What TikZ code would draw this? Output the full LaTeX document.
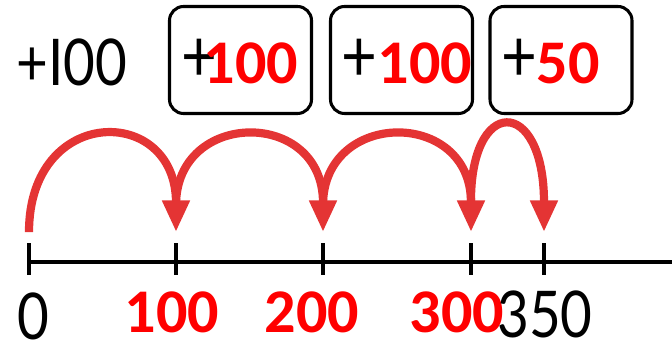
\documentclass[tikz,border=0pt]{standalone}
\usepackage{fontspec}
\usepackage{tikz}
\usetikzlibrary{arrows.meta}
\newfontfamily\plainnum[FakeStretch=0.85]{Lato}
\newfontfamily\boldnum{Carlito}
\definecolor{jumpred}{RGB}{228,52,52}
\definecolor{labred}{RGB}{255,0,0}

\begin{document}
\begin{tikzpicture}[x=0.03cm, y=-0.03cm,
    box/.style={draw, line width=2.6pt, rounded corners=12pt, minimum width=4.26cm, minimum height=3.21cm},
    blk/.style={inner sep=0pt, font=\plainnum\fontsize{55}{66}\selectfont},
    plus/.style={inner sep=0pt, font=\plainnum\fontsize{62}{74}\selectfont},
    redlab/.style={inner sep=0pt, text=labred, font=\boldnum\bfseries\fontsize{53}{64}\selectfont},
    jump/.style={draw=jumpred, line width=7pt, -{Triangle[length=27pt,width=22pt]}}]
                    \useasboundingbox (0,0) rectangle (672,344);
                    \node[blk] (first) at (72,62) {+I00};
                    \node[box] (B1) at (240.5,60) {};
                    \node[box] (B2) at (401.5,60) {};
                    \node[box] (B3) at (561,60) {};
                    \node[plus] (P1) at (199,60) {+}; \node[redlab] (R1) at (251,63) {100};
                    \node[plus] (P2) at (359,60) {+}; \node[redlab] (R2) at (425,63) {100};
                    \node[plus] (P3) at (519,60) {+}; \node[redlab] (R3) at (568,63) {50};
                    \coordinate (p0) at (29,262); \coordinate (p1) at (176,262); \coordinate (p2) at (323,262);
                    \coordinate (p3) at (471,262); \coordinate (p4) at (544,262); \coordinate (end) at (672,262);
                    \draw[line width=2.8pt] (p0) -- (end);
                    \foreach \p in {p0,p1,p2,p3,p4}
                        \draw[line width=2.8pt] ([yshift=16pt]\p) -- ([yshift=-11pt]\p);
                    \draw[jump] ([yshift=25.5pt]p0) .. controls +(0,-128) and +(0,-128) .. ([yshift=25.5pt]p1);
                    \draw[jump] ([yshift=48.5pt]p1) .. controls +(0,-96) and +(0,-124) .. ([yshift=25.5pt]p2);
                    \draw[jump] ([yshift=48.5pt]p2) .. controls +(0,-96) and +(0,-124) .. ([yshift=25.5pt]p3);
                    \draw[jump] ([yshift=48.5pt]p3) .. controls +(-2,-110) and +(0,-137) .. ([yshift=25.5pt]p4);
                    \node[blk] (L0) at (33,316) {0};
                    \node[redlab] (L1) at (172,312) {100};
                    \node[redlab] (L2) at (312,312) {200};
                    \node[redlab] (L3) at (457,312) {300};
                    \node[blk] (L4) at (545,314) {350};
                \end{tikzpicture}
\end{document}
